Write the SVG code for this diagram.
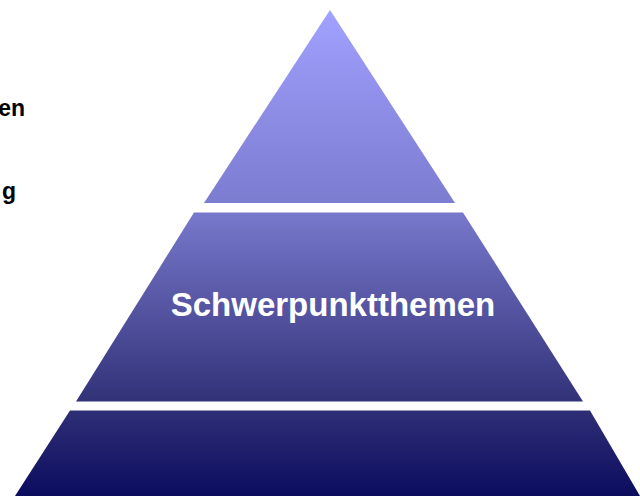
<svg xmlns="http://www.w3.org/2000/svg" width="640" height="496" viewBox="0 0 640 496">
<defs>
<linearGradient id="g" gradientUnits="userSpaceOnUse" x1="0" y1="10" x2="0" y2="496">
<stop offset="0" stop-color="#a1a1ff"/>
<stop offset="0.4" stop-color="#7b7bd0"/>
<stop offset="0.8" stop-color="#33337a"/>
<stop offset="1" stop-color="#0c0c5f"/>
</linearGradient>
<style>
.tier{fill:url(#g);}
.lbl{font-family:"Liberation Sans",Arial,sans-serif;font-weight:bold;}
</style>
</defs>
<rect width="640" height="496" fill="#ffffff"/>
<g id="side-text">
<text class="lbl" x="25" y="116" font-size="23" fill="#000000" text-anchor="end">en</text>
<text class="lbl" x="16" y="199" font-size="23" fill="#000000" text-anchor="end">g</text>
</g>
<g id="tier-top">
<polygon class="tier" points="330,10 455,203 204,203"/>
</g>
<g id="tier-middle">
<polygon class="tier" points="194,212.5 463,212.5 583,401.5 76,401.5"/>
<text class="lbl" x="333" y="316" font-size="33" fill="#ffffff" text-anchor="middle">Schwerpunktthemen</text>
</g>
<g id="tier-bottom">
<polygon class="tier" points="70,410.5 590,410.5 640,496 15,496"/>
</g>
<g id="connectors"/>
</svg>
